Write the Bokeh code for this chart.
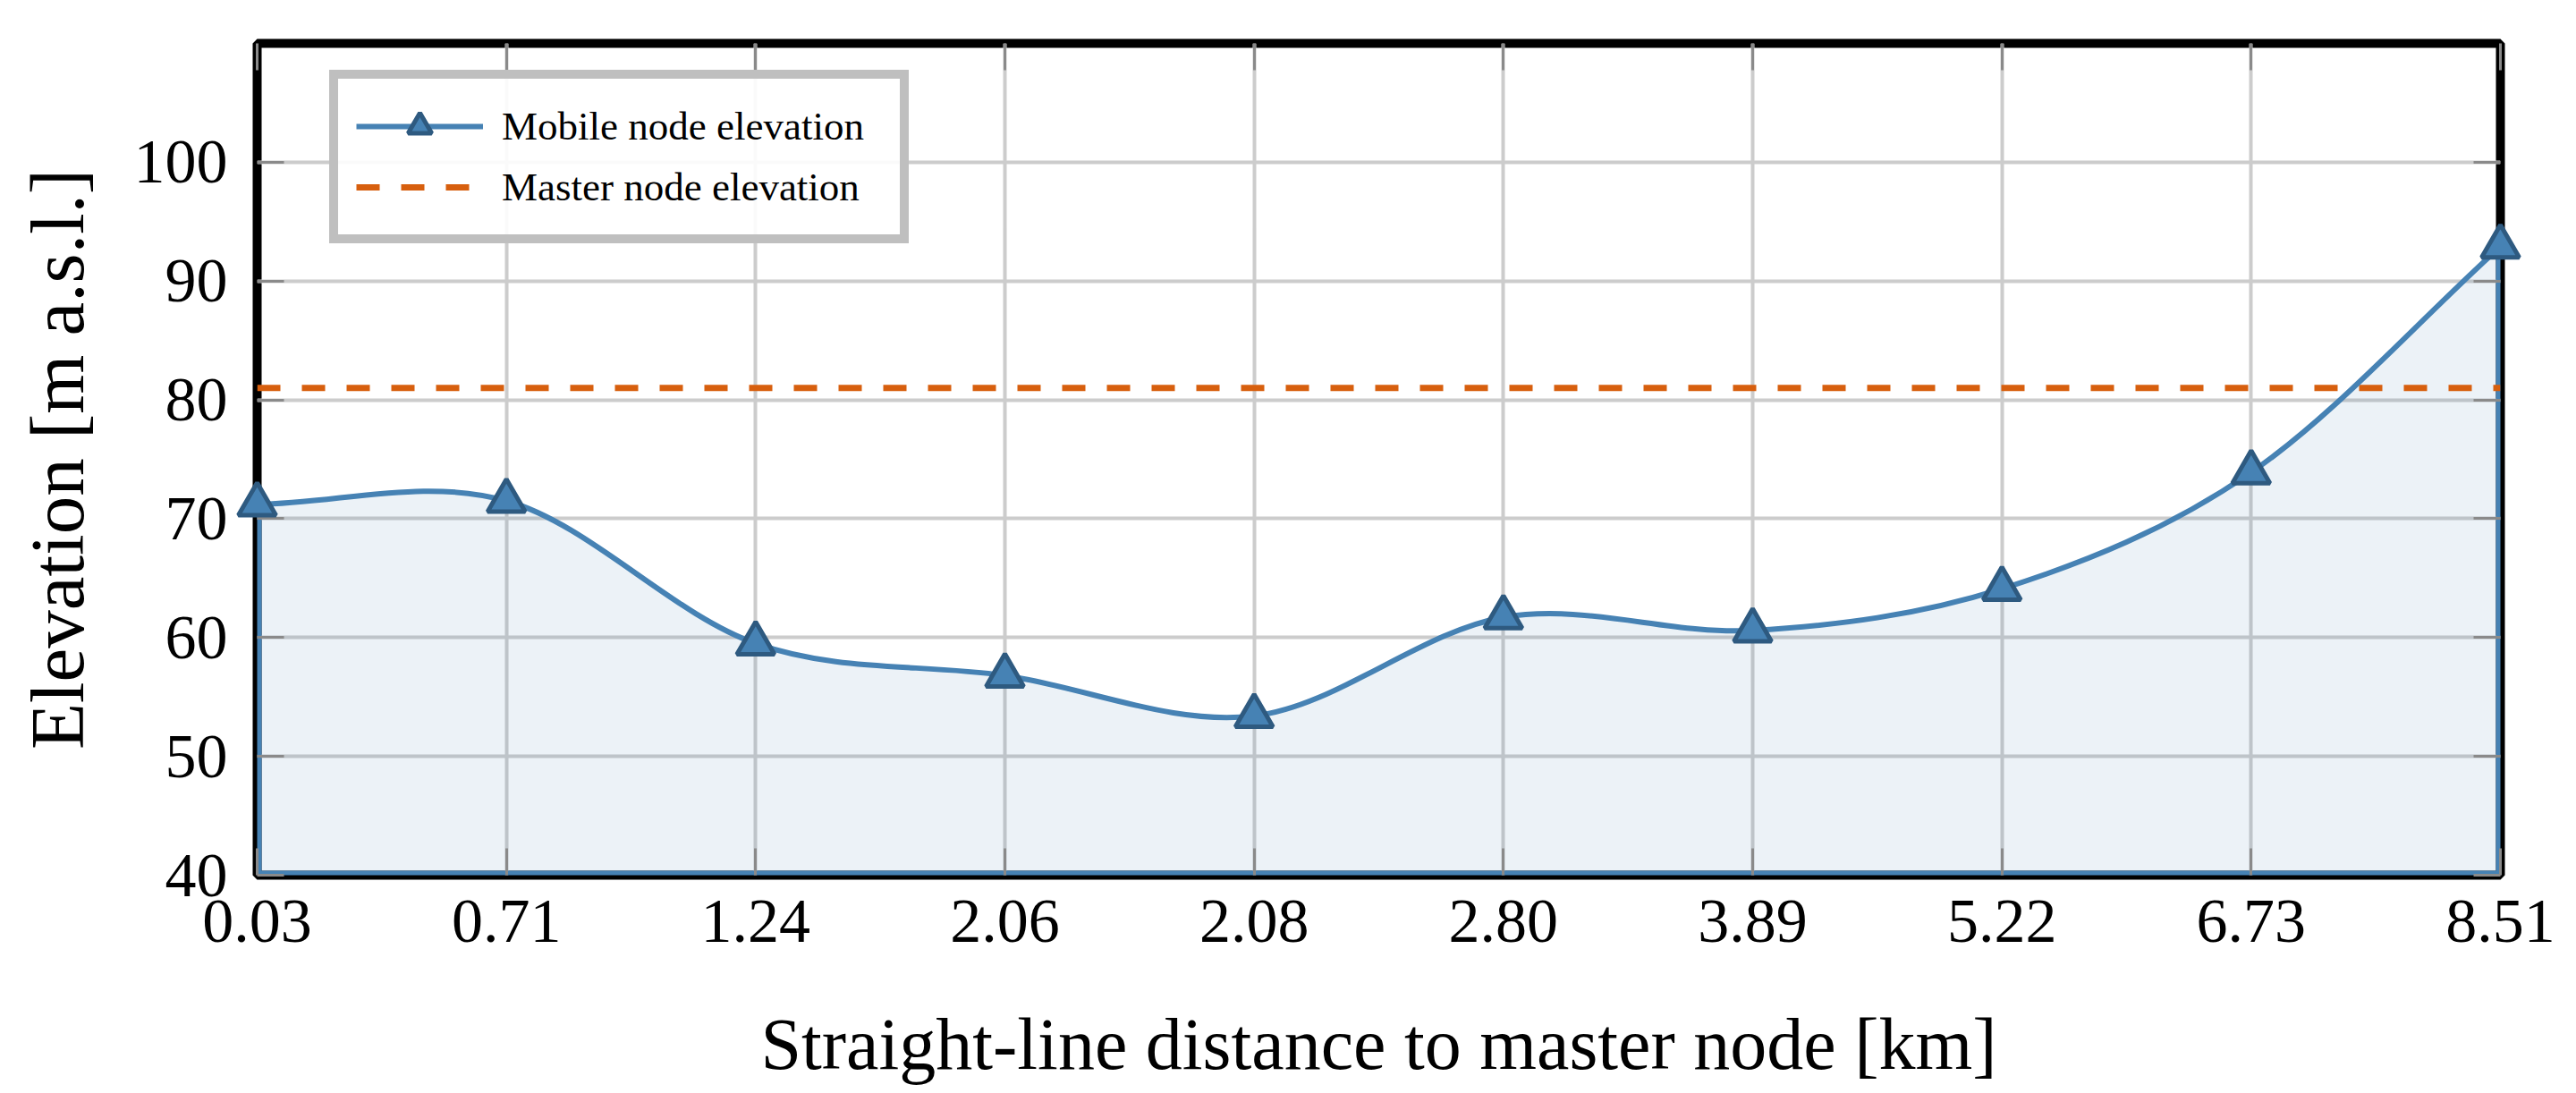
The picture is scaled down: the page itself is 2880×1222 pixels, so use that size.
import numpy as np
from bokeh.plotting import figure
from bokeh.models import (FixedTicker, LinearAxis, Range1d, Legend, LegendItem)
from bokeh.embed import file_html
from bokeh.resources import INLINE

# ---------------- data ----------------
distance_labels = ["0.03", "0.71", "1.24", "2.06", "2.08", "2.80", "3.89", "5.22", "6.73", "8.51"]
mobile_elevation = [71.2, 71.5, 59.5, 56.8, 53.4, 61.7, 60.6, 64.1, 73.9, 92.9]
master_elevation = 81.0
y_ticks = [40, 50, 60, 70, 80, 90, 100]
y_min, y_max = 40, 110

FONT = "Liberation Serif"
BLUE = "#4682b4"
DARK_BLUE = "#2e5a80"
ORANGE = "#d75f0e"

xs = np.arange(len(mobile_elevation), dtype=float)
ys = np.asarray(mobile_elevation, dtype=float)
n = len(ys)

# smooth cubic Hermite curve through the points (tangents by finite differences)
m = np.gradient(ys, xs)
h = xs[1:] - xs[:-1]
bz = dict(x0=xs[:-1], y0=ys[:-1], x1=xs[1:], y1=ys[1:],
          cx0=xs[:-1] + h / 3, cy0=ys[:-1] + m[:-1] * h / 3,
          cx1=xs[1:] - h / 3, cy1=ys[1:] - m[1:] * h / 3)

# same curve evaluated for the shaded area below it
t = np.linspace(0, 1, 40)
h00 = 2 * t**3 - 3 * t**2 + 1
h10 = t**3 - 2 * t**2 + t
h01 = -2 * t**3 + 3 * t**2
h11 = t**3 - t**2
fx, fy = [], []
for i in range(n - 1):
    fx.extend(xs[i] + t * h[i])
    fy.extend(h00 * ys[i] + h10 * h[i] * m[i] + h01 * ys[i + 1] + h11 * h[i] * m[i + 1])

p = figure(frame_width=2508, frame_height=930,
           min_border_left=287, min_border_right=69, min_border_top=48, min_border_bottom=228,
           x_range=Range1d(0, n - 1), y_range=Range1d(y_min, y_max),
           output_backend="svg", toolbar_location=None,
           background_fill_color="white", border_fill_color="white")

p.outline_line_color = "black"
p.outline_line_width = 10
p.outline_line_alpha = 1.0

xticker = FixedTicker(ticks=list(range(n)))
yticker = FixedTicker(ticks=y_ticks)

xaxis_b = p.below[0]
yaxis_l = p.left[0]

xaxis_b.ticker = xticker
xaxis_b.major_label_overrides = {i: lab for i, lab in enumerate(distance_labels)}
yaxis_l.ticker = yticker
p.xgrid.ticker = xticker
p.ygrid.ticker = yticker
for g in (p.xgrid, p.ygrid):
    g.grid_line_color = "#cccccc"
    g.grid_line_width = 4

top_axis = LinearAxis(ticker=xticker, major_label_overrides={i: "" for i in range(n)})
right_axis = LinearAxis(ticker=yticker, major_label_overrides={v: "" for v in y_ticks})
p.add_layout(top_axis, "above")
p.add_layout(right_axis, "right")

for ax in (xaxis_b, yaxis_l, top_axis, right_axis):
    ax.axis_line_color = None
    ax.major_tick_in = 30
    ax.major_tick_out = 0
    ax.major_tick_line_color = "#8a8a8a"
    ax.major_tick_line_width = 3
    ax.minor_tick_line_color = None
    ax.major_label_text_font = FONT
    ax.major_label_text_font_size = "70px"
    ax.major_label_text_color = "black"
    ax.axis_label_text_font = FONT
    ax.axis_label_text_font_style = "normal"
    ax.axis_label_text_font_size = "82px"
    ax.axis_label_text_color = "black"

top_axis.major_label_standoff = 0
right_axis.major_label_standoff = 0

xaxis_b.axis_label = "Straight-line distance to master node [km]"
yaxis_l.axis_label = "Elevation [m a.s.l.]"
yaxis_l.axis_label_text_font_size = "85px"
xaxis_b.major_label_standoff = 28
yaxis_l.major_label_standoff = 33
xaxis_b.axis_label_standoff = 66
yaxis_l.axis_label_standoff = 36

# shaded area under the curve
p.varea(x=fx, y1=[y_min] * len(fx), y2=fy, fill_color=BLUE, fill_alpha=0.1)
# edge of the shaded area (bottom and sides)
p.multi_line(xs=[[xs[0], xs[0]], [xs[0], xs[-1]], [xs[-1], xs[-1]]],
             ys=[[y_min, ys[0]], [y_min, y_min], [y_min, ys[-1]]],
             line_color=BLUE, line_width=10)

master_r = p.line(x=[xs[0], xs[-1]], y=[master_elevation, master_elevation],
                  line_color=ORANGE, line_width=7, line_dash="26 24")

curve_r = p.bezier(source=bz, x0="x0", y0="y0", x1="x1", y1="y1",
                   cx0="cx0", cy0="cy0", cx1="cx1", cy1="cy1",
                   line_color=BLUE, line_width=6)
marker_r = p.scatter(x=xs, y=ys, marker="triangle", size=42,
                     fill_color=BLUE, line_color=DARK_BLUE, line_width=5)
marker_r.level = "overlay"

legend = Legend(items=[LegendItem(label="Mobile node elevation", renderers=[curve_r, marker_r]),
                       LegendItem(label="Master node elevation", renderers=[master_r])],
                location=(81, 706))
legend.label_text_font = FONT
legend.label_text_font_size = "45px"
legend.label_text_color = "black"
legend.glyph_width = 142
legend.glyph_height = 66
legend.label_height = 66
legend.label_width = 425
legend.label_standoff = 21
legend.spacing = 2
legend.padding = 20
legend.margin = 0
legend.border_line_color = "#bfbfbf"
legend.border_line_width = 10
legend.border_line_alpha = 1.0
legend.background_fill_color = "white"
legend.background_fill_alpha = 0.9
p.add_layout(legend)

open("out.html", "w").write(file_html(p, INLINE))
